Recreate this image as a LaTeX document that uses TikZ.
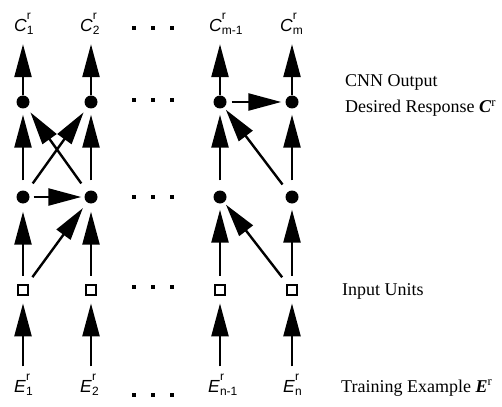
\documentclass[tikz,border=0pt]{standalone}
\usepackage{fontspec}
\setmainfont{Liberation Serif}
\setsansfont{Liberation Sans}
\usetikzlibrary{arrows.meta}
\newcommand\idxlab[2]{{\sffamily\fontsize{17.5}{17}\selectfont\textit{#1}\rlap{\raisebox{12pt}{\fontsize{12}{12}\selectfont r}}\raisebox{-3pt}{\fontsize{12}{12}\selectfont #2}}}
\begin{document}
\begin{tikzpicture}[x=1pt,y=-1pt,
  dot/.style={circle,fill,inner sep=0pt,minimum size=13pt},
  unit/.style={rectangle,draw,line width=2.3pt,fill=white,inner sep=0pt,minimum size=10.5pt},
  arr/.style={line width=2.4pt,-{Triangle[length=33pt,width=17pt]}},
  lab/.style={inner sep=0pt,anchor=base west},
  txt/.style={inner sep=0pt,anchor=base west,font=\fontsize{18}{20}\selectfont},
  edot/.style={rectangle,fill,inner sep=0pt,minimum size=4pt}]
\useasboundingbox (0,0) rectangle (502,406);
% columns
\foreach \n/\x in {1/23,2/91,3/220,4/292}{
  \node[dot] (t\n) at (\x,102) {};
  \node[dot] (m\n) at (\x,197) {};
  \node[unit] (i\n) at (\x,290) {};
}
% labels
\node[lab] (c1) at (14,32) {\idxlab{C}{1}};
\node[lab] (c2) at (80,32) {\idxlab{C}{2}};
\node[lab] (c3) at (209,32) {\idxlab{C}{m-1}};
\node[lab] (c4) at (280,32) {\idxlab{C}{m}};
\node[lab] (e1) at (14,392) {\idxlab{E}{1}};
\node[lab] (e2) at (80,392) {\idxlab{E}{2}};
\node[lab] (e3) at (208,392) {\idxlab{E}{n-1}};
\node[lab] (e4) at (283,392) {\idxlab{E}{n}};
% ellipses
\foreach \r/\y in {a/28,b/100,c/197,d/287,e/395}{
  \foreach \k/\x in {1/134,2/153,3/172}{
    \node[edot] (d\r\k) at (\x,\y) {};
  }
}
% output arrows
\foreach \n in {1,...,4}{
  \draw[arr,shorten >=9pt] (t\n) -- (t\n |- c\n.south);
}
% hidden -> output
\draw[arr,shorten <=10pt,shorten >=6pt] (m1) -- (t1);
\draw[arr,shorten <=10pt,shorten >=6pt] (m1) -- (t2);
\draw[arr,shorten <=10pt,shorten >=6pt] (m2) -- (t1);
\draw[arr,shorten <=10pt,shorten >=6pt] (m2) -- (t2);
\draw[arr,shorten <=10pt,shorten >=6pt] (m3) -- (t3);
\draw[arr,shorten <=9pt,shorten >=3pt] (m4) -- (t3);
\draw[arr,shorten <=10pt,shorten >=6pt] (m4) -- (t4);
\draw[arr,shorten <=5pt,shorten >=4pt] (t3) -- (t4);
\draw[arr,shorten <=4pt,shorten >=3pt] (m1) -- (m2);
% input -> hidden
\draw[arr,shorten <=8pt,shorten >=8pt] (i1) -- (m1);
\draw[arr,shorten <=8pt,shorten >=7pt] (i1) -- (m2);
\draw[arr,shorten <=8pt,shorten >=8pt] (i2) -- (m2);
\draw[arr,shorten <=8pt,shorten >=6pt] (i3) -- (m3);
\draw[arr,shorten <=8pt,shorten >=3pt] (i4) -- (m3);
\draw[arr,shorten <=8pt,shorten >=6pt] (i4) -- (m4);
% examples -> input
\foreach \n in {1,...,4}{
  \draw[arr,shorten <=7pt,shorten >=7pt] (i\n |- e\n.north) -- (i\n);
}
% right-hand texts
\node[txt] (tx1) at (345,87) {CNN Output};
\node[txt] (tx2) at (345,113) {Desired Response \textbf{\textit{C}}\textsuperscript{r}};
\node[txt] (tx3) at (342,295) {Input Units};
\node[txt] (tx4) at (341,392) {Training Example \textbf{\textit{E}}\textsuperscript{r}};
\end{tikzpicture}
\end{document}
